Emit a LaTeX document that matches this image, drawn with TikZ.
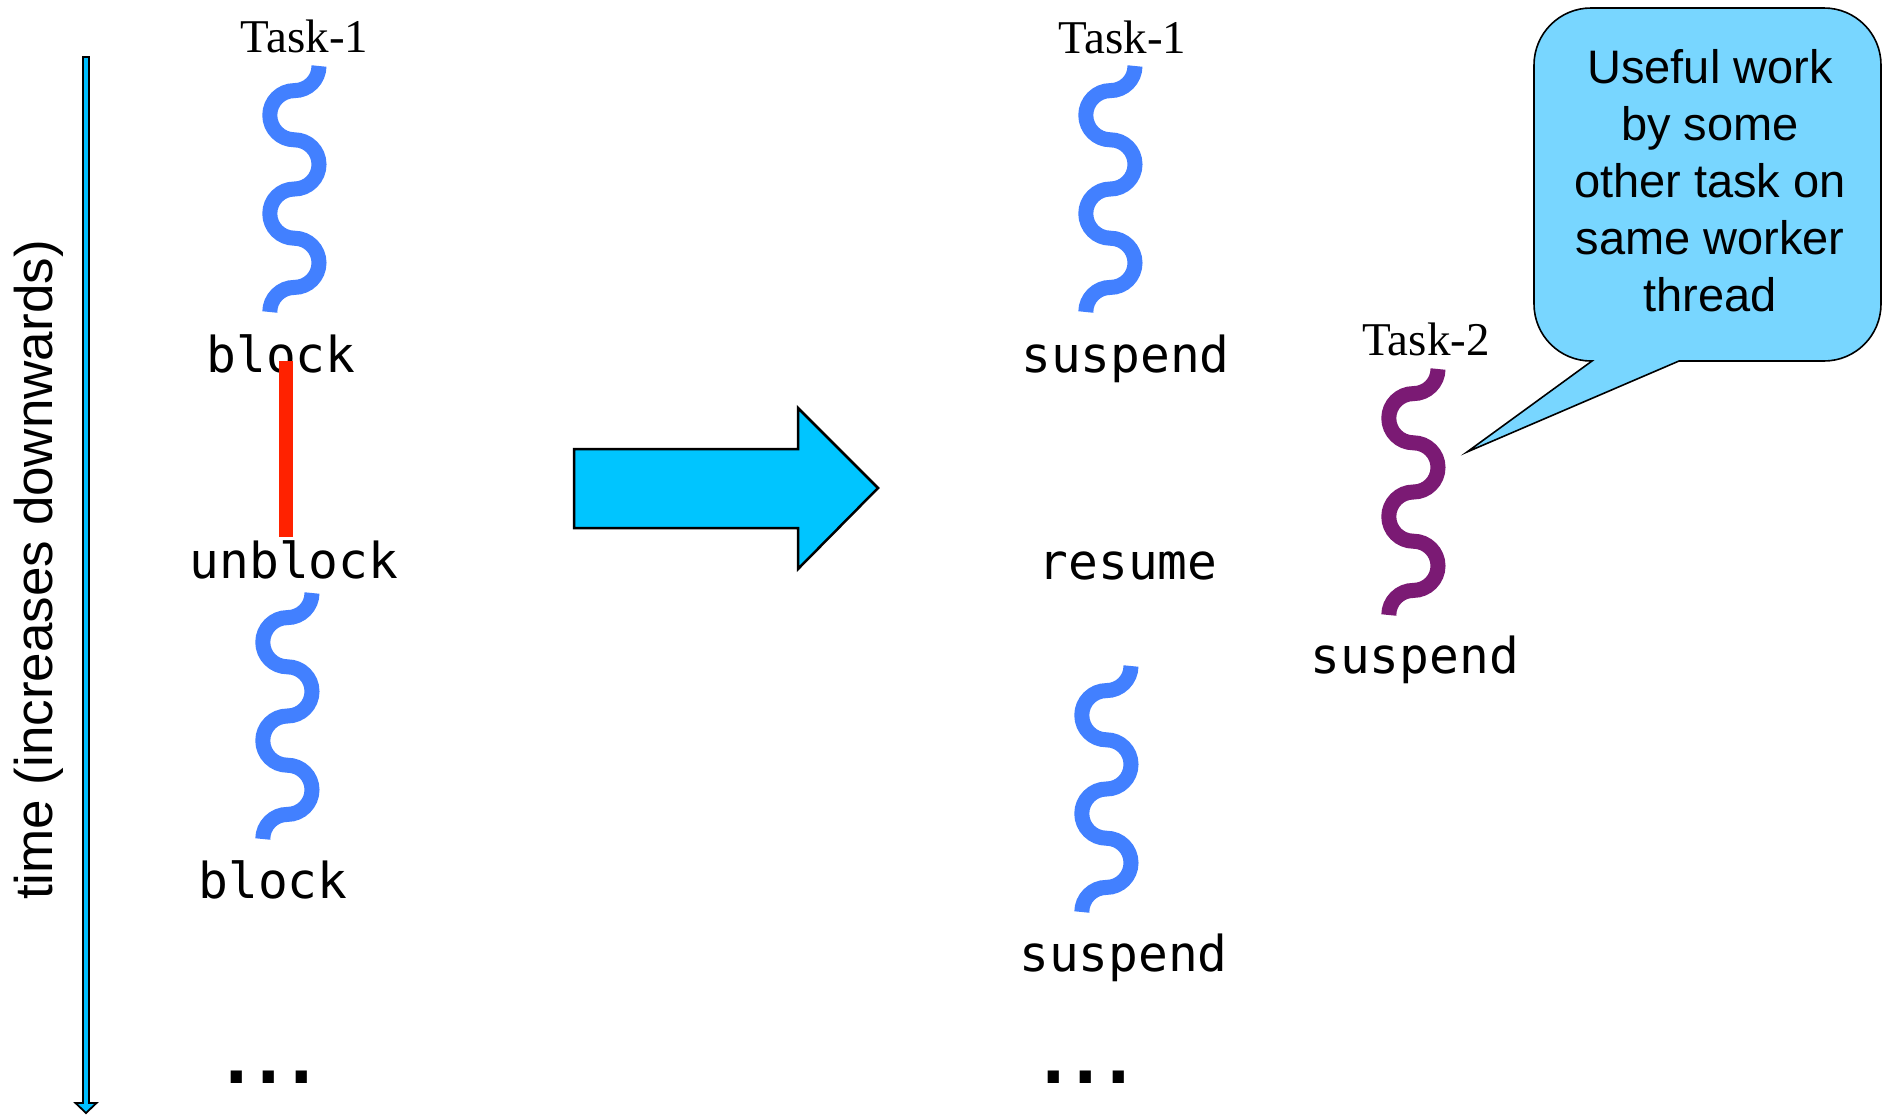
\documentclass[tikz,border=0pt]{standalone}
\usepackage{fontspec}
\setmainfont{Liberation Serif}
\setsansfont{Liberation Sans}
\newfontfamily\codefont{DejaVu Sans Mono}
\newfontfamily\dotfont{Liberation Sans}

\definecolor{threadblue}{RGB}{66,128,255}
\definecolor{threadpurple}{RGB}{123,26,116}
\definecolor{blockred}{RGB}{255,34,0}
\definecolor{arrowcyan}{RGB}{0,197,255}
\definecolor{axiscyan}{RGB}{0,191,255}
\definecolor{bubblecyan}{RGB}{120,214,255}

\tikzset{
  % a wavy thread: quarter arc, four alternating half circles, quarter arc
  pics/squiggle/.style={code={
    \draw[line width=15pt, line cap=butt, #1] (0,0)
      arc[start angle=0,   end angle=-90, radius=24.6]
      arc[start angle=90,  end angle=270, radius=24.6]
      arc[start angle=90,  end angle=-90, radius=24.6]
      arc[start angle=90,  end angle=270, radius=24.6]
      arc[start angle=90,  end angle=-90, radius=24.6]
      arc[start angle=90,  end angle=180, radius=24.6];
  }},
  tasklabel/.style={anchor=base, inner sep=0pt, font=\fontsize{47}{47}\selectfont},
  event/.style={anchor=base, inner sep=0pt, font=\codefont\fontsize{49.5}{50}\selectfont},
  ellipsis/.style={anchor=base west, inner sep=0pt, font=\dotfont\fontsize{117}{117}\selectfont},
}

\begin{document}
\begin{tikzpicture}[x=1pt, y=1pt]
  \useasboundingbox (0,0) rectangle (1883,-1117);

  % time axis
  \draw[fill=axiscyan, line width=1.8pt, line join=miter]
    (83,-57) -- (89,-57) -- (89,-1103) -- (96.5,-1103) -- (86,-1113)
    -- (75.5,-1103) -- (83,-1103) -- cycle;
  \node[anchor=base, rotate=90, inner sep=0pt,
        font=\sffamily\fontsize{53}{53}\selectfont] (timelbl) at (52,-570)
    {time (increases downwards)};

  % left column: blocking task
  \node[tasklabel] (t1a) at (304.5,-52) {Task-1};
  \pic at (319,-66) {squiggle=threadblue};
  \node[event] (blk1) at (281,-372) {block};
  \node[event] (unblk) at (294,-578) {unblock};
  \pic at (312,-593) {squiggle=threadblue};
  \node[event] (blk2) at (273,-898) {block};
  \node[ellipsis] (dotsL) at (220,-1083) {...};
  \fill[blockred] (279,-361) rectangle (293,-537);

  % transformation arrow
  \draw[fill=arrowcyan, line width=2.5pt, line join=miter]
    (574,-449) -- (798,-449) -- (798,-408) -- (878,-488) -- (798,-569)
    -- (798,-528) -- (574,-528) -- cycle;

  % right column: suspending task
  \node[tasklabel] (t1b) at (1122.5,-53) {Task-1};
  \pic at (1135,-66) {squiggle=threadblue};
  \node[event] (susp1) at (1125.5,-372) {suspend};
  \node[event] (res) at (1128,-579) {resume};
  \pic at (1131,-666) {squiggle=threadblue};
  \node[event] (susp2) at (1123.5,-971) {suspend};
  \node[ellipsis] (dotsR) at (1037,-1083) {...};

  % second task on the same worker
  \node[tasklabel] (t2) at (1426,-355) {Task-2};
  \pic at (1438,-369) {squiggle=threadpurple};
  \node[event] (susp3) at (1414.5,-673) {suspend};

  % callout
  \coordinate (tip) at (1467,-452);
  \draw[fill=bubblecyan, line width=1.6pt, line join=miter]
    (tip) -- (1679,-361) -- (1881-57,-361)
    arc[start angle=-90, end angle=0, radius=57] -- (1881,-8-57)
    arc[start angle=0, end angle=90, radius=57] -- (1534+57,-8)
    arc[start angle=90, end angle=180, radius=57] -- (1534,-361+57)
    arc[start angle=180, end angle=270, radius=57] -- (1592,-361) -- cycle;
  \node[align=center, inner sep=0pt,
        font=\sffamily\fontsize{47}{57}\selectfont] (note) at (1710,-180.5)
    {Useful work\\by some\\other task on\\same worker\\thread};
\end{tikzpicture}
\end{document}
